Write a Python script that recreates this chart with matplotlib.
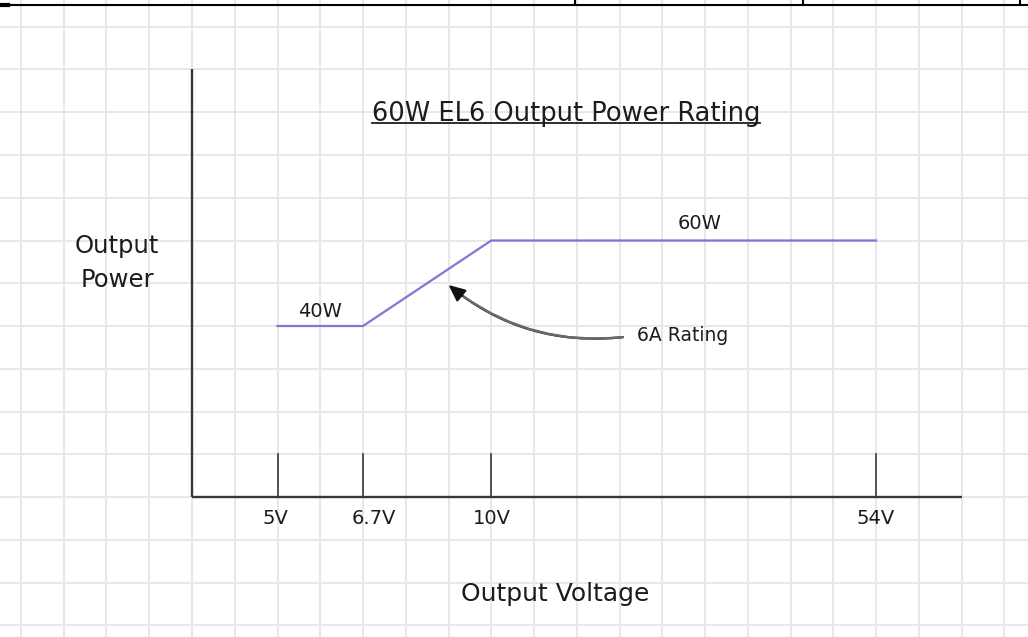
import matplotlib
matplotlib.use("Agg")
import matplotlib.pyplot as plt
from matplotlib.lines import Line2D

# ---- data ----
voltage_labels = ["5V", "6.7V", "10V", "54V"]
voltages = [5, 6.7, 10, 54]
curve_voltages = [5, 6.7, 10, 54]
curve_power_w = [40, 40, 60, 60]
title = "60W EL6 Output Power Rating"
x_title = "Output Voltage"
y_title = ["Output", "Power"]
level_labels = ["40W", "60W"]
annotation_text = "6A Rating"

# ---- layout (schematic, not-to-scale voltage axis: grid-cell slots) ----
voltage_slots = [2, 4, 7, 16]
label_dx = [-0.05, 0.25, 0.02, 0.0]
slot_of = dict(zip(voltages, voltage_slots))

PX_X = 42.75          # pixels per grid cell horizontally
PX_Y = 4.275          # pixels per watt vertically
X0, Y0 = 192, 497     # axis origin in pixels (from top-left)
W, H = 1028, 637
TXT = "#1c1c1c"

fig = plt.figure(figsize=(W / 100, H / 100), dpi=100)
ax = fig.add_axes([0, 0, 1, 1])
ax.set_xlim(-X0 / PX_X, (W - X0) / PX_X)
ax.set_ylim(-(H - Y0) / PX_Y, Y0 / PX_Y)
ax.axis("off")

# background grid
grid_c = "#e8e8e8"
for gx in range(-4, 20):
    ax.axvline(gx, color=grid_c, lw=1.4, zorder=0)
for gy in range(-30, 120, 10):
    ax.axhline(gy, color=grid_c, lw=1.4, zorder=0)

# axes lines
axis_c = "#383838"
ax.plot([0, 0], [0, 100], color=axis_c, lw=1.7, zorder=2, solid_capstyle="butt")
ax.plot([0, 18], [0, 0], color=axis_c, lw=1.7, zorder=2, solid_capstyle="butt")

# tick marks and labels
for v, lab, dx in zip(voltages, voltage_labels, label_dx):
    s = slot_of[v]
    ax.plot([s, s], [0, 10], color=axis_c, lw=1.2, zorder=2)
    ax.text(s + dx, -6.3, lab, ha="center", va="baseline", fontsize=14,
            color=TXT)

# power curve
xs = [slot_of[v] for v in curve_voltages]
ax.plot(xs, curve_power_w, color="#7a78d2", lw=1.6, zorder=3,
        solid_joinstyle="miter")

# level labels
ax.text(3.0, 42.1, level_labels[0], ha="center", va="baseline",
        fontsize=14, color=TXT)
ax.text(11.88, 62.7, level_labels[1], ha="center", va="baseline",
        fontsize=14, color=TXT)

# title (underlined)
t = ax.text(8.75, 88.0, title, ha="center", va="baseline", fontsize=18.5,
            color=TXT)

# axis titles
ax.text(8.49, -24.3, x_title, ha="center", va="baseline", fontsize=18,
        color=TXT)
ax.text(-1.754, 57.1, y_title[0], ha="center", va="baseline", fontsize=17.5,
        color=TXT)
ax.text(-1.754, 49.1, y_title[1], ha="center", va="baseline", fontsize=17.5,
        color=TXT)

# annotation with curved arrow
tail = (10.08, 37.4)
tip = (6.0, 49.6)
ax.text(10.41, 36.5, annotation_text, ha="left", va="baseline",
        fontsize=13.5, color=TXT)
ax.annotate("", xy=tip, xytext=tail,
            arrowprops=dict(arrowstyle="-|>,head_length=1.0,head_width=0.45",
                            connectionstyle="arc3,rad=-0.21",
                            color="#111111", lw=1.6,
                            shrinkA=0, shrinkB=0), zorder=4)
ax.annotate("", xy=tip, xytext=tail,
            arrowprops=dict(arrowstyle="-",
                            connectionstyle="arc3,rad=-0.21",
                            color="#6a6a6a", lw=1.8,
                            shrinkA=0, shrinkB=14), zorder=5)

# underline title
fig.canvas.draw()
bb = t.get_window_extent(renderer=fig.canvas.get_renderer())
inv = ax.transData.inverted()
(x1, _), (x2, _) = inv.transform([(bb.x0, bb.y0), (bb.x1, bb.y0)])
ax.plot([x1, x2], [87.4, 87.4], color=TXT, lw=1.3, zorder=3)

# cropped border at top of the image (figure pixel coordinates)
def px(x, y):
    return x / W, 1 - y / H

for (xa, ya), (xb, yb), lw in [((8, 4.5), (W, 4.5), 1.5),
                               ((0, 5), (8, 5), 3.0),
                               ((575, 0), (575, 4.5), 1.5),
                               ((803, 0), (803, 4.5), 1.5),
                               ((1020, 0), (1020, 4.5), 1.5)]:
    pa, pb = px(xa, ya), px(xb, yb)
    fig.add_artist(Line2D([pa[0], pb[0]], [pa[1], pb[1]], color="black",
                          lw=lw, transform=fig.transFigure))

fig.savefig("out.png", dpi=100)
